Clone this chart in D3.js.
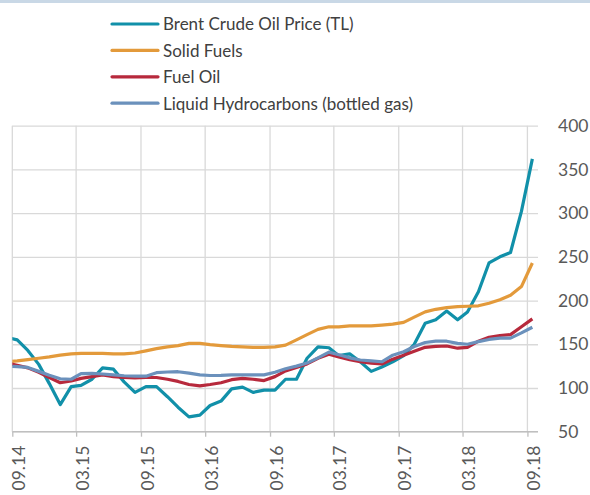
<!DOCTYPE html>
<html>
<head>
<meta charset="utf-8">
<script src="https://cdn.jsdelivr.net/npm/d3@7"></script>
<style>
  body { margin: 0; background: #fff; }
  text { font-family: Lato, "Open Sans", sans-serif; }
</style>
</head>
<body>
<svg id="chart" width="590" height="495"></svg>
<script>
var width = 590;
var height = 495;

// monthly categories, 08.14 .. 09.18 (08.14 sits just outside the axis and is clipped)
var months = d3.timeMonth.range(new Date(2014, 7, 1), new Date(2018, 9, 1));

var brent = [158, 155, 143, 127, 105, 81, 101.5, 103, 110, 123, 121.5, 107, 95,
  101.5, 101.5, 90, 78, 67, 69, 80, 85, 99, 101, 95, 97.5,
  97.5, 110, 110, 134, 147, 146, 137, 139, 130, 119, 124, 130,
  137, 150, 174, 178, 188, 178, 187, 210, 243, 250, 255, 302, 362];
var solidFuels = [130, 131, 132.5, 134, 135.5, 137.5, 139, 139.5, 139.7, 139.5, 139, 139, 140,
  142.5, 145, 147, 148.5, 151, 151, 149.5, 148.5, 147.5, 147, 146.5, 146.5,
  147, 149, 155, 161, 167, 170, 170, 171, 171, 171, 172, 173,
  175, 181, 187, 190, 192, 193, 193.5, 194, 197, 201, 206, 216, 243];
var fuelOil = [128.5, 126, 123, 118, 112, 106, 108, 111, 113, 115, 113, 112, 111.5,
  112, 112, 110, 107.5, 104, 102.5, 104, 106, 109.5, 111, 110, 108.5,
  113, 119.5, 123.5, 127.5, 134, 138.5, 135.5, 132.5, 130, 128.5, 127.5, 133,
  137.5, 142, 146.5, 147.5, 148, 145.5, 146.5, 153.5, 158, 160, 161, 170, 179];
var bottledGas = [125, 124.5, 123.5, 119, 114.5, 110.5, 110, 116.5, 116.8, 116, 115, 114, 113.5,
  113.5, 117.5, 118.3, 118.6, 117, 115, 114.3, 114.5, 115, 115, 115, 115,
  118, 122, 125, 128.5, 134.5, 141, 138, 134.5, 132, 131, 130, 137.5,
  141.5, 147.5, 152, 153.5, 153.5, 151, 150, 153, 155.5, 157, 157, 163, 169.5];

var seriesNames = ["Brent Crude Oil Price (TL)", "Solid Fuels", "Fuel Oil", "Liquid Hydrocarbons (bottled gas)"];
var seriesColors = ["#1190a9", "#e39a3b", "#b7293c", "#6b91bc"];
var seriesValues = [brent, solidFuels, fuelOil, bottledGas];

var tickLabels = ["09.14", "03.15", "09.15", "03.16", "09.16", "03.17", "09.17", "03.18", "09.18"];
var yTicks = [50, 100, 150, 200, 250, 300, 350, 400];

var svg = d3.select("#chart");
var parseMonth = d3.timeParse("%m.%y");

var plotLeft = 12.3, plotRight = 538, plotTop = 125.7, plotBottom = 431.7;

var x = d3.scaleTime()
  .domain([new Date(2014, 8, 1), new Date(2018, 9, 1)])
  .range([plotLeft, plotRight]);
var y = d3.scaleLinear().domain([50, 400]).range([plotBottom, plotTop]);

// thin band along the top edge
svg.append("rect")
  .attr("x", 0).attr("y", 0)
  .attr("width", width).attr("height", 3)
  .attr("fill", "#c9d8e6");

// horizontal gridlines + right-side labels
svg.append("g")
  .attr("transform", `translate(${plotRight},0)`)
  .call(d3.axisRight(y).tickValues(yTicks).tickSize(-(plotRight - plotLeft)).tickPadding(20))
  .call(g => g.select(".domain").remove())
  .call(g => g.selectAll(".tick line").attr("stroke", "#d9d9d9").attr("stroke-width", 1.3))
  .call(g => g.selectAll(".tick text")
    .attr("fill", "#595959")
    .style("font-size", "17.5px"));

// vertical gridlines at the labelled dates
svg.append("g")
  .selectAll("line")
  .data(tickLabels)
  .enter()
  .append("line")
  .attr("x1", d => x(parseMonth(d)))
  .attr("x2", d => x(parseMonth(d)))
  .attr("y1", plotTop)
  .attr("y2", plotBottom)
  .attr("stroke", "#d9d9d9")
  .attr("stroke-width", 1.3);

// bottom axis
var xAxis = svg.append("g")
  .attr("transform", `translate(0,${plotBottom})`)
  .call(d3.axisBottom(x).tickValues(tickLabels.map(parseMonth)).tickSize(5).tickFormat(d3.timeFormat("%m.%y")));

xAxis.select(".domain").attr("stroke", "#bfbfbf").attr("stroke-width", 1.3)
  .attr("d", `M${plotLeft},0H${plotRight}`);
xAxis.selectAll(".tick line").attr("stroke", "#bfbfbf").attr("stroke-width", 1.3);
xAxis.selectAll(".tick text")
  .attr("fill", "#595959")
  .style("font-size", "17.5px")
  .attr("text-anchor", "end")
  .attr("transform", "translate(6,14) rotate(-90)")
  .attr("x", 0)
  .attr("y", 0)
  .attr("dy", "0.35em");

// lines
svg.append("clipPath")
  .attr("id", "plot-clip")
  .append("rect")
  .attr("x", plotLeft).attr("y", 0)
  .attr("width", plotRight - plotLeft).attr("height", plotBottom);

var line = d3.line()
  .x((d, i) => x(d3.timeDay.offset(months[i], 14)))
  .y(d => y(d));

svg.append("g")
  .attr("clip-path", "url(#plot-clip)")
  .selectAll("path")
  .data(seriesValues)
  .enter()
  .append("path")
  .attr("fill", "none")
  .attr("stroke", (d, i) => seriesColors[i])
  .attr("stroke-width", 3.2)
  .attr("stroke-linejoin", "round")
  .attr("d", line);

// legend
var legend = svg.append("g");
seriesNames.forEach((name, i) => {
  var ly = 24 + i * 26.4;
  legend.append("line")
    .attr("x1", 112).attr("x2", 158)
    .attr("y1", ly).attr("y2", ly)
    .attr("stroke", seriesColors[i])
    .attr("stroke-width", 3.2)
    .attr("stroke-linecap", "round");
  legend.append("text")
    .attr("x", 163)
    .attr("y", ly + 6.3)
    .attr("fill", "#404040")
    .style("font-size", "17px")
    .text(name);
});
</script>
</body>
</html>
